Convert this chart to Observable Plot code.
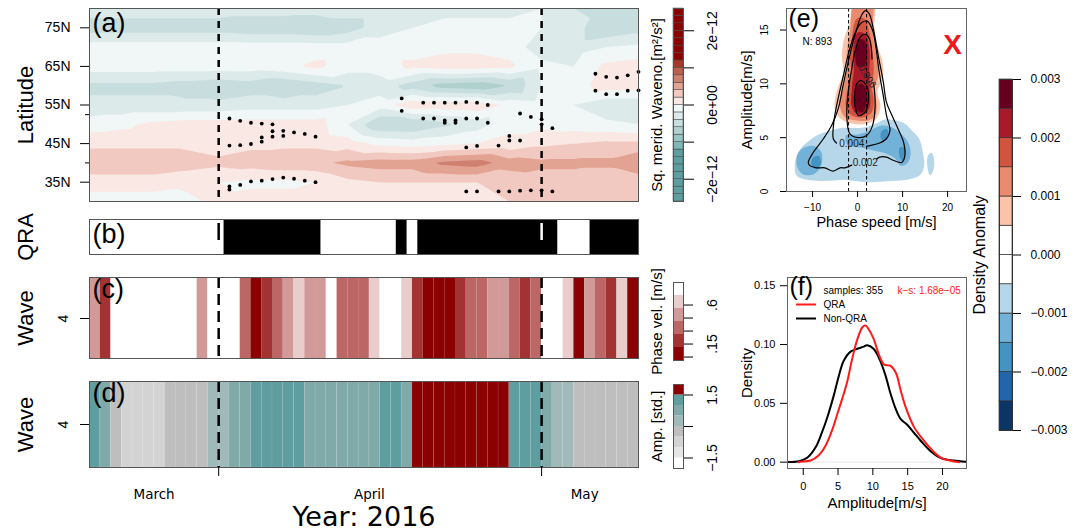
<!DOCTYPE html>
<html><head><meta charset="utf-8">
<script src="https://cdn.jsdelivr.net/npm/d3@7"></script>
<script src="https://cdn.jsdelivr.net/npm/@observablehq/plot@0.6"></script>
<style>
html,body{margin:0;padding:0;background:#fff;}
#chart{position:relative;width:1080px;height:531px;overflow:hidden;font-family:"Liberation Sans",Arial,sans-serif;}
.panel{position:absolute;}
.panel svg{overflow:visible;background:transparent;max-width:none;}
</style></head><body><div id="chart"></div>
<script>
// ---------------- DATA ----------------
// time axis (analysis steps), month labels, period markers
const nSteps = 51;
const periodMarks = [12, 42];
const monthNames = ["March", "April", "May"];
const monthPos = [6, 26, 46];

// (a) squared meridional wavenumber anomaly, units 1e-12 m²/s²
const timeIdx = [0,3,6,9,12,15,18,21,24,27,30,33,36,39,42,45,48,51];
const latitudes = [80,75,70,65,60,55,50,45,40,35,30];
const waveno = [
 [-0.3,-0.3,-0.3,-0.3,-0.3,-0.3,-0.3,-0.3,-0.3,-0.3,-0.3,-0.25,-0.25,-0.25,-0.2,-0.4,-0.5,-0.4],
 [-0.5,-0.5,-0.5,-0.5,-0.5,-0.55,-0.55,-0.6,-0.5,-0.3,-0.2,-0.15,-0.15,-0.15,-0.2,-0.3,-0.6,-0.5],
 [-0.1,-0.1,-0.1,-0.1,-0.1,-0.1,-0.1,-0.1,-0.1,-0.1,-0.1,-0.05,-0.05,-0.1,-0.3,-0.3,-0.2,-0.15],
 [-0.1,-0.1,-0.1,-0.1,-0.1,-0.1,-0.05,0.05,-0.1,-0.1,0.05,0.1,0.1,0.05,-0.15,-0.2,0.05,0.1],
 [-0.45,-0.45,-0.45,-0.5,-0.55,-0.5,-0.6,-0.5,-0.4,-0.3,-0.5,-0.7,-0.75,-0.6,-0.2,-0.1,0.1,0.1],
 [-0.35,-0.35,-0.35,-0.35,-0.35,-0.3,-0.3,-0.3,-0.2,-0.1,0.15,0.15,0.15,-0.05,-0.1,-0.2,-0.35,-0.35],
 [-0.1,-0.05,0.05,0.1,0.1,0.1,0.1,0.1,-0.2,-0.6,-0.6,-0.45,-0.3,-0.05,-0.05,-0.1,-0.15,-0.2],
 [0.15,0.15,0.15,0.15,0.1,0.15,0.15,0.15,0.1,-0.05,-0.1,-0.05,0.0,0.05,0.15,0.2,0.25,0.25],
 [0.35,0.35,0.35,0.3,0.25,0.3,0.35,0.35,0.45,0.5,0.5,0.65,0.7,0.5,0.45,0.45,0.45,0.6],
 [0.1,0.1,0.1,0.05,0.0,-0.05,-0.05,0.0,0.15,0.2,0.2,0.2,0.2,0.25,0.3,0.3,0.25,0.25],
 [-0.1,-0.1,-0.1,-0.05,0.05,0.1,0.1,0.1,0.15,0.15,0.15,0.15,0.15,0.2,0.2,0.2,0.3,0.35]
];
const latTicks = [35, 45, 55, 65, 75];
const latLabels = ["35N", "45N", "55N", "65N", "75N"];
const latMinor = [40, 52.5];
// significance dots [time step, latitude]
const sigDots = [
 [13,51.5],[14,50.9],[15,50.4],[16,50.2],[17,50.0],
 [17,48.2],[17,46.8],[18,48.3],[18,47.0],[19,47.9],[20,47.5],[21,46.8],
 [16,46.6],[16,45.5],[13,44.5],[14,44.6],[15,44.9],
 [13,33.9],[13,33.1],[14,34.3],[15,35.2],[16,35.4],[17,35.8],[18,36.2],[19,35.9],[20,35.4],[21,35.0],
 [29,56.7],[29,53.5],
 [31,55.6],[32,55.6],[33,55.6],[34,55.6],[35,55.8],[36,55.6],[37,55.0],
 [31,51.5],[32,51.5],[33,51.0],[33,50.4],[34,51.0],[34,50.4],[35,51.5],[36,51.5],[37,50.4],
 [40,52.8],[41,51.9],[42,51.3],[42,50.0],[43,49.0],
 [39,47.0],[39,45.8],[40,45.8],[35,44.0],[36,44.4],[38,44.5],
 [35,32.6],[36,32.6],[38,32.6],[39,32.6],[40,32.8],[41,32.9],[42,32.9],[43,32.6],
 [47,63.1],[48,62.3],[49,62.1],[50,62.7],[51,63.6],
 [47,58.7],[48,57.8],[49,57.8],[50,58.7],[51,58.8]
];
const cbATicks = [-2, -1, 0, 1, 2];
const cbALabels = ["−2e−12", "", "0e+00", "", "2e−12"];

// (b) QRA periods (start / end time step)
const qraStart = [12.5, 28.5, 30.5, 46.5];
const qraEnd = [21.5, 29.5, 43.5, 51];

// (c) wave-4 phase velocity per step
const waveNumbers = ["4"];
const phaseVel = [0.5,0.2,0.8,0.8,0.8,0.8,0.8,0.8,0.8,0.8,0.5,0.8,0.8,0.8,0.35,0.05,0.2,0.35,0.5,0.65,
 0.5,0.5,0.8,0.35,0.35,0.35,0.65,0.8,0.8,0.65,0.2,0.05,0.05,0.05,0.2,0.35,0.35,0.5,0.5,0.35,
 0.2,0.35,0.8,0.8,0.65,0.05,0.5,0.35,0.2,0.65,0.05];
const phaseThresholds = [0.11, 0.26, 0.41, 0.56, 0.71];
const phaseEdges = [-0.04, 0.11, 0.26, 0.41, 0.56, 0.71, 0.86];
const phaseTicks = [0, 0.15, 0.3, 0.45, 0.6];
const phaseTickLabels = ["", ".15", "", "", ".6"];

// (d) wave-4 amplitude per step [std.]
const waveAmp = [1.2,0.7,-0.2,-0.7,-0.7,-0.7,-0.7,-0.2,-0.2,-0.2,-0.2,0.2,0.2,0.7,0.7,1.2,1.2,1.2,1.2,1.2,
 0.7,0.7,0.7,0.7,0.7,0.7,0.7,1.2,1.2,0.7,1.8,1.8,1.8,1.8,1.8,1.8,1.8,1.8,1.8,1.2,
 1.2,1.2,0.7,0.2,0.2,-0.2,-0.2,-0.2,-0.2,-0.2,-0.2];
const ampThresholds = [-1.5, -1, -0.5, 0, 0.5, 1, 1.5];
const ampEdges = [-2, -1.5, -1, -0.5, 0, 0.5, 1, 1.5, 2];
const ampTicks = [-1.5, 0, 1.5];
const ampTickLabels = ["−1.5", "", "1.5"];

// (e) density anomaly regions (phase speed, amplitude) and density contours
const anomShapes = [
 {id:"b1", v:-0.0007, pts:[[-13.6,1.5],[-13.9,2.7],[-12.8,3.9],[-10.5,4.8],[-8,5.4],[-5.8,5.7],[-3.8,5.9],[-2,5.9],[0,5.9],[2,6.0],[4,6.3],[6,6.7],[8.5,6.6],[10.5,6.3],[12.2,5.6],[13.7,4.9],[14.5,3.6],[14.8,2.4],[13.8,1.5],[11,1.1],[8,1.0],[5,0.9],[2.5,0.85],[0,0.95],[-3,1.1],[-6,1.0],[-9,1.0],[-12,1.15]]},
 {id:"b2", v:-0.0007, pts:[[15.6,3.3],[16.4,3.6],[17.0,3.0],[16.8,1.9],[16.1,1.5],[15.5,2.3]]},
 {id:"b3", v:-0.0012, pts:[[-13.3,3.5],[-11.8,4.1],[-9.5,4.2],[-8.0,3.6],[-8.2,2.3],[-9.8,1.6],[-12.2,1.6],[-13.5,2.4]]},
 {id:"b4", v:-0.0012, pts:[[-2.6,5.2],[0,5.3],[2.5,5.6],[5,6.1],[7.5,6.0],[9.5,5.4],[11.2,4.6],[11.8,3.5],[11,2.6],[9.5,2.4],[8.5,3.0],[6.5,3.5],[3.5,3.8],[0.5,4.1],[-2.2,4.3]]},
 {id:"b5", v:-0.0017, pts:[[-10,3.1],[-8.6,3.3],[-8.2,2.5],[-9.2,2.1],[-10.2,2.4]]},
 {id:"b6", v:-0.0017, pts:[[5.3,5.6],[6.5,5.8],[6.9,5.1],[6.0,4.7],[5.2,4.9]]},
 {id:"b7", v:-0.0017, pts:[[9.4,4.1],[10.4,4.1],[10.6,3.3],[9.9,2.9],[9.3,3.3]]},
 {id:"r1", v:0.0007, pts:[[-0.96,17.5],[-1.7,15.75],[-3.0,14.2],[-3.5,12.65],[-3.2,11.1],[-4.7,9.2],[-5.1,7.7],[-3.9,6.8],[-1.0,6.3],[2.0,6.3],[4.2,6.8],[5.1,8.0],[4.4,9.2],[5.6,10.6],[5.6,11.9],[4.4,13.6],[3.7,15.4],[3.6,17.5]]},
 {id:"r2", v:0.0012, pts:[[-0.6,17.5],[-1.7,14.8],[-2.4,13.0],[-2.4,11.1],[-3.5,9.2],[-3.9,7.85],[-2.8,6.9],[-0.2,6.6],[2.4,6.6],[3.9,7.05],[4.2,8.3],[3.6,9.5],[4.6,10.8],[4.2,12.65],[3.3,14.8],[3.1,17.5]]},
 {id:"r3", v:0.0017, pts:[[-0.2,16.05],[-1.3,14.2],[-1.7,12.3],[-1.3,10.8],[-2.4,9.2],[-2.6,7.9],[-1.3,7.05],[1.3,6.9],[3.1,7.35],[3.6,8.6],[3.1,9.85],[3.6,11.1],[3.3,13.0],[2.6,14.8],[1.6,16.05]]},
 {id:"r4", v:0.0022, pts:[[-0.2,14.7],[-0.96,13.3],[-0.8,11.4],[-1.3,9.5],[-1.3,7.9],[-0.2,7.2],[1.6,7.2],[2.7,7.9],[2.7,9.4],[2.6,11.1],[2.7,13.0],[2.0,14.4],[0.9,14.8]]},
 {id:"r5", v:0.0027, pts:[[0.9,14.2],[0,14.0],[-0.5,12.65],[0,11.6],[1.6,11.7],[2.1,13.0],[1.6,14.0]]},
 {id:"r6", v:0.0027, pts:[[0.9,10.0],[-0.2,9.85],[-0.6,8.6],[-0.1,7.5],[1.1,7.35],[2.0,8.3],[1.9,9.5]]}
];
const densOpen = [
 {id:"0.002", pts:[[4.2,3.0],[4.9,3.2],[6.4,3.2],[7.9,2.9],[9.8,2.7],[10.5,3.3],[10.2,4.6],[9.0,5.8],[7.6,7.1],[6.4,8.3],[5.7,10.2],[4.6,12.6],[3.5,15.1],[2.6,16.5],[1.8,16.8],[0.9,16.4],[-0.6,14.5],[-2.1,12.0],[-3.2,9.9],[-4.3,7.7],[-5.8,6.1],[-7.6,4.9],[-9.9,3.6],[-10.96,2.7],[-10.6,2.4],[-9.1,2.2],[-7.3,2.2],[-5.4,1.9],[-3.9,2.2],[-2.8,2.2],[-1.3,2.45]]},
 {id:"0.004", pts:[[2.0,4.2],[4.9,4.5],[6.4,4.9],[7.2,5.65],[6.4,7.1],[5.7,8.9],[4.8,11.1],[4.1,13.3],[3.3,15.0],[2.2,15.8],[0.9,15.7],[-0.6,14.7],[-2.1,12.7],[-3.3,10.5],[-4.5,8.3],[-5.3,6.4],[-5.4,4.9],[-4.7,4.5]]},
 {id:"0.006", pts:[[3.6,10.0],[3.9,8.0],[3.3,6.1],[2.0,5.2],[0.2,5.0],[-1.7,5.35],[-2.4,7.05],[-2.1,9.2],[-1.3,11.4],[-0.4,13.3],[0.7,14.4],[1.8,14.6],[2.7,14.1],[3.2,12.3]]}
];
const densClosed = [
 {id:"0.008", pts:[[0.7,10.3],[2.0,9.8],[2.4,8.6],[1.6,7.35],[0.2,7.05],[-0.6,8.0],[-0.6,9.2],[-0.2,10.0]]}
];
const densLabels = [
 {x:1.7, y:2.7, text:"0.002", rot:0},
 {x:-1.3, y:4.4, text:"0.004", rot:0},
 {x:2.15, y:10.7, text:"0.006", rot:58}
];
const eDashX = [-2, 2];
const eXTicks = [-10, 0, 10, 20];
const eYTicks = [0, 5, 10, 15];
const anomEdges = d3.range(-6, 7).map(i => i * 0.0005);
const anomTicks = [-0.003, -0.002, -0.001, 0, 0.001, 0.002, 0.003];
const anomTickLabels = ["−0.003", "−0.002", "−0.001", "0.000", "0.001", "0.002", "0.003"];

// (f) amplitude density curves
const qraAmp = [-0.7,-0.4,1.05,2.2,3.2,4.2,4.9,5.6,6.3,7.0,7.8,8.5,8.95,9.4,10.1,10.9,11.6,12.5,13.3,14.0,14.7,15.9,17.1,18.8,20.0,21.2,22.4];
const qraDens = [0,0.0003,0.0014,0.0057,0.014,0.028,0.041,0.054,0.068,0.087,0.105,0.1147,0.1162,0.113,0.105,0.091,0.083,0.082,0.076,0.061,0.047,0.030,0.020,0.0085,0.003,0.0012,0.0];
const nonAmp = [-2.26,-0.6,0.57,1.8,2.7,3.45,4.4,5.1,5.8,6.8,7.8,8.6,9.2,10.1,11.0,11.8,12.5,13.3,14.0,14.9,15.9,16.9,18.3,19.7,21.6,23.45];
const nonDens = [0.0001,0.0008,0.0037,0.0128,0.0255,0.038,0.057,0.073,0.086,0.094,0.0964,0.098,0.0994,0.0964,0.087,0.074,0.059,0.045,0.0365,0.032,0.025,0.018,0.0093,0.0037,0.0014,0.0003];
const fXTicks = [0, 5, 10, 15, 20];
const fYTicks = [0, 0.05, 0.10, 0.15];
const legendLabels = ["QRA", "Non-QRA"];

// ---------------- STYLES ----------------
const FONT = "'Liberation Sans', Arial, Helvetica, sans-serif";
const DEJAVU = "'DejaVu Sans', sans-serif";
const baseStyle = {background: "transparent", overflow: "visible", fontFamily: FONT, maxWidth: "none"};
const colorA = {type: "linear", clamp: true, interpolate: "rgb",
  domain: [-1.4,-1.2,-1.0,-0.8,-0.6,-0.4,-0.2,0,0.2,0.4,0.6,0.8,1.0,1.2],
  range: ["#5f9ea0","#80b6b6","#98c4c4","#b0d0d0","#c8dede","#dceaea","#f1f7f7","#fae8e4","#f1c9c0","#e2a392","#d08070","#bf5e4e","#a83828","#8b0000"]};
const colorPhase = {type: "threshold", domain: phaseThresholds,
  range: ["#8b0000","#a33333","#bd6666","#d29999","#e9cccc","#ffffff"]};
const colorAmp = {type: "threshold", domain: ampThresholds,
  range: ["#ffffff","#e6e6e6","#d3d3d3","#bebebe","#a0b9b9","#80aaaa","#5f9ea0","#8b0000"]};
const colorAnom = {type: "threshold", domain: d3.range(-5, 6).map(i => i * 0.0005),
  range: ["#0b3564","#2166ac","#4393c3","#73b2d8","#b6d7ea","#ffffff","#ffffff","#f9c4a9","#ea8a6e","#d2543f","#a8192c","#67001f"]};
const lineSymbol = {draw(ctx, size) { const r = Math.sqrt(size / Math.PI); ctx.moveTo(-r, 0); ctx.lineTo(r, 0); }};

function place(svg, left, top) {
  const div = document.createElement("div");
  div.className = "panel";
  div.style.left = left + "px"; div.style.top = top + "px";
  div.appendChild(svg);
  document.getElementById("chart").appendChild(div);
}
const sideLabel = (t, dx) => Plot.text([t], {frameAnchor: "left", dx, rotate: -90, textAnchor: "middle", lineAnchor: "middle", fontSize: 22});
const panelTag = (t, opts) => Plot.text([t], {frameAnchor: "top-left", textAnchor: "start", lineAnchor: "top", fontSize: 27, ...opts});

// ---------------- PANEL (a) ----------------
const gridPts = [];
latitudes.forEach((lat, r) => timeIdx.forEach((t, c) => gridPts.push({t, lat, v: waveno[r][c]})));
const levelsA = d3.range(-13, 13).map(i => i / 5);

place(Plot.plot({
  width: 640, height: 210, marginLeft: 89, marginRight: 2, marginTop: 8, marginBottom: 9,
  style: baseStyle,
  x: {domain: [0, nSteps], axis: null, label: null},
  y: {domain: [30, 80], axis: null, label: null},
  color: colorA,
  marks: [
    Plot.contour(gridPts, {x: "t", y: "lat", fill: "v", thresholds: levelsA, interpolate: "barycentric", stroke: "none"}),
    Plot.dot(sigDots, {x: d => d[0], y: d => d[1], r: 1.9, fill: "black", stroke: "none"}),
    Plot.ruleX(periodMarks, {stroke: "black", strokeWidth: 2.5, strokeDasharray: "7,6"}),
    Plot.frame({stroke: "#555"}),
    Plot.axisY({ticks: latTicks, tickFormat: d => latLabels[latTicks.indexOf(d)], tickSize: 9, tickPadding: 10, fontSize: 14, label: null}),
    Plot.axisY({ticks: latMinor, tickSize: 4, tickFormat: () => "", label: null}),
    sideLabel("Latitude", -64),
    panelTag("(a)", {dx: 3, dy: 4})
  ]
}), 0, 0);

// colorbar (a)
const boxesA = levelsA.map(lo => ({lo, hi: lo + 0.2}));
place(Plot.plot({
  width: 90, height: 210, marginLeft: 33, marginRight: 47, marginTop: 8, marginBottom: 9,
  style: baseStyle,
  x: {axis: null}, y: {domain: [-2.6, 2.6], axis: null, label: null},
  color: colorA,
  marks: [
    Plot.rect(boxesA, {y1: "lo", y2: "hi", fill: "lo", stroke: "#444", strokeWidth: 0.5}),
    Plot.frame({stroke: "#555"}),
    Plot.axisY({anchor: "right", ticks: cbATicks, tickSize: 10, tickFormat: () => "", label: null}),
    Plot.text(cbATicks, {y: d => d, text: (d, i) => cbALabels[i], frameAnchor: "right", dx: 29, rotate: -90, textAnchor: "middle", lineAnchor: "middle", fontSize: 14}),
    Plot.text(["Sq. merid. Waveno.[m²/s²]"], {frameAnchor: "left", dx: -16, rotate: -90, textAnchor: "middle", lineAnchor: "middle", fontSize: 15})
  ]
}), 640, 0);

// ---------------- PANEL (b) ----------------
const qraSegs = qraStart.map((s, i) => ({s, e: qraEnd[i]}));
const inQra = x => qraSegs.some(q => x >= q.s && x <= q.e);
place(Plot.plot({
  width: 640, height: 50, marginLeft: 89, marginRight: 2, marginTop: 9, marginBottom: 6,
  style: baseStyle,
  x: {domain: [0, nSteps], axis: null, label: null},
  color: {type: "identity"},
  marks: [
    Plot.rect(qraSegs, {x1: "s", x2: "e", fill: "black"}),
    Plot.ruleX(periodMarks, {stroke: d => inQra(d) ? "white" : "black", strokeWidth: 2.5, strokeDasharray: "17,40", strokeDashoffset: -4}),
    Plot.frame({stroke: "#555"}),
    sideLabel("QRA", -64),
    Plot.text(["(b)"], {frameAnchor: "left", textAnchor: "start", lineAnchor: "middle", dx: 3, dy: -3, fontSize: 27})
  ]
}), 0, 210);

// ---------------- PANEL (c) ----------------
place(Plot.plot({
  width: 640, height: 105, marginLeft: 89, marginRight: 2, marginTop: 17, marginBottom: 7,
  style: baseStyle,
  x: {domain: [0, nSteps], axis: null, label: null},
  y: {type: "point", domain: waveNumbers, axis: null, label: null},
  color: colorPhase,
  marks: [
    Plot.rect(phaseVel, {x1: (d, i) => i, x2: (d, i) => i + 1, fill: d => d}),
    Plot.ruleX(periodMarks, {stroke: "black", strokeWidth: 2.5, strokeDasharray: "11,6"}),
    Plot.frame({stroke: "#555"}),
    Plot.axisY({tickSize: 9, tickFormat: () => "", label: null}),
    Plot.text(waveNumbers, {y: d => d, frameAnchor: "left", dx: -26, rotate: -90, textAnchor: "middle", lineAnchor: "middle", fontSize: 14}),
    sideLabel("Wave", -64),
    panelTag("(c)", {dx: 3, dy: 1})
  ]
}), 0, 260);

// colorbar (c)
const boxesC = phaseEdges.slice(0, -1).map((lo, i) => ({lo, hi: phaseEdges[i + 1]}));
place(Plot.plot({
  width: 90, height: 110, marginLeft: 33, marginRight: 47, marginTop: 22, marginBottom: 10,
  style: baseStyle,
  x: {axis: null}, y: {domain: [phaseEdges[0], phaseEdges[phaseEdges.length - 1]], axis: null, label: null},
  color: colorPhase,
  marks: [
    Plot.rect(boxesC, {y1: "lo", y2: "hi", fill: d => (d.lo + d.hi) / 2}),
    Plot.frame({stroke: "#555"}),
    Plot.axisY({anchor: "right", ticks: phaseTicks, tickSize: 9, tickFormat: () => "", label: null}),
    Plot.text(phaseTicks, {y: d => d, text: (d, i) => phaseTickLabels[i], frameAnchor: "right", dx: 29, rotate: -90, textAnchor: "middle", lineAnchor: "middle", fontSize: 14}),
    Plot.text(["Phase vel. [m/s]"], {frameAnchor: "left", dx: -16, rotate: -90, textAnchor: "middle", lineAnchor: "middle", fontSize: 15})
  ]
}), 640, 260);

// ---------------- PANEL (d) ----------------
place(Plot.plot({
  width: 640, height: 166, marginLeft: 89, marginRight: 2, marginTop: 16, marginBottom: 64,
  style: baseStyle,
  x: {domain: [0, nSteps], label: null},
  y: {type: "point", domain: waveNumbers, axis: null, label: null},
  color: colorAmp,
  marks: [
    Plot.rect(waveAmp, {x1: (d, i) => i, x2: (d, i) => i + 1, fill: d => d, stroke: "white", strokeOpacity: 0.12, strokeWidth: 0.6}),
    Plot.ruleX(periodMarks, {stroke: "black", strokeWidth: 2.5, strokeDasharray: "11,6"}),
    Plot.frame({stroke: "#555"}),
    Plot.axisY({tickSize: 9, tickFormat: () => "", label: null}),
    Plot.axisX({ticks: periodMarks, tickSize: 9, tickFormat: () => "", label: null}),
    Plot.text(waveNumbers, {y: d => d, frameAnchor: "left", dx: -26, rotate: -90, textAnchor: "middle", lineAnchor: "middle", fontSize: 14}),
    Plot.text(monthNames, {x: (d, i) => monthPos[i], frameAnchor: "bottom", dy: 27, lineAnchor: "middle", fontSize: 13.5, fontFamily: DEJAVU}),
    Plot.text(["Year: 2016"], {frameAnchor: "bottom", dy: 50, lineAnchor: "middle", fontSize: 27, fontFamily: DEJAVU}),
    sideLabel("Wave", -64),
    panelTag("(d)", {dx: 3, dy: 1})
  ]
}), 0, 365);

// colorbar (d)
const boxesD = ampEdges.slice(0, -1).map((lo, i) => ({lo, hi: ampEdges[i + 1]}));
place(Plot.plot({
  width: 90, height: 110, marginLeft: 33, marginRight: 47, marginTop: 14, marginBottom: 12,
  style: baseStyle,
  x: {axis: null}, y: {domain: [ampEdges[0], ampEdges[ampEdges.length - 1]], axis: null, label: null},
  color: colorAmp,
  marks: [
    Plot.rect(boxesD, {y1: "lo", y2: "hi", fill: d => (d.lo + d.hi) / 2}),
    Plot.frame({stroke: "#555"}),
    Plot.axisY({anchor: "right", ticks: ampTicks, tickSize: 9, tickFormat: () => "", label: null}),
    Plot.text(ampTicks, {y: d => d, text: (d, i) => ampTickLabels[i], frameAnchor: "right", dx: 29, rotate: -90, textAnchor: "middle", lineAnchor: "middle", fontSize: 14}),
    Plot.text(["Amp. [std.]"], {frameAnchor: "left", dx: -16, rotate: -90, textAnchor: "middle", lineAnchor: "middle", fontSize: 15})
  ]
}), 640, 370);

// ---------------- PANEL (e) ----------------
const flat = shapes => shapes.flatMap(s => s.pts.map(([x, y]) => ({id: s.id, v: s.v, x, y})));
place(Plot.plot({
  width: 260, height: 240, marginLeft: 66, marginRight: 14, marginTop: 8, marginBottom: 49,
  style: baseStyle,
  x: {domain: [-15.8, 24.2], label: null},
  y: {domain: [0, 17], label: null},
  color: colorAnom,
  marks: [
    Plot.line(flat(anomShapes), {x: "x", y: "y", z: "id", fill: "v", stroke: "none", curve: "catmull-rom-closed", clip: true}),
    Plot.line(flat(densOpen), {x: "x", y: "y", z: "id", stroke: "black", strokeWidth: 1.2, curve: "catmull-rom", clip: true}),
    Plot.line(flat(densClosed), {x: "x", y: "y", z: "id", stroke: "black", strokeWidth: 1.2, curve: "catmull-rom-closed", clip: true}),
    Plot.ruleX(eDashX, {stroke: "black", strokeWidth: 1, strokeDasharray: "3.5,2.5"}),
    Plot.text(densLabels, {x: "x", y: "y", text: "text", rotate: "rot", fontSize: 10, fill: "#222"}),
    Plot.frame({stroke: "#666"}),
    Plot.axisX({ticks: eXTicks, tickSize: 6, tickPadding: 6, fontSize: 10, label: null}),
    Plot.axisY({ticks: eYTicks, tickSize: 6, tickFormat: () => "", label: null}),
    Plot.text(eYTicks, {y: d => d, frameAnchor: "left", dx: -22, rotate: -90, textAnchor: "middle", lineAnchor: "middle", fontSize: 10}),
    Plot.text(["Amplitude[m/s]"], {frameAnchor: "left", dx: -39, rotate: -90, textAnchor: "middle", lineAnchor: "middle", fontSize: 15}),
    Plot.text(["Phase speed [m/s]"], {frameAnchor: "bottom", dy: 31, lineAnchor: "middle", fontSize: 14.5}),
    Plot.text(["(e)"], {frameAnchor: "top-left", textAnchor: "start", lineAnchor: "top", dx: 2, dy: 1, fontSize: 25}),
    Plot.text(["N: 893"], {frameAnchor: "top-left", textAnchor: "start", lineAnchor: "middle", dx: 16, dy: 33, fontSize: 10}),
    Plot.text(["X"], {frameAnchor: "top-right", textAnchor: "middle", lineAnchor: "middle", dx: -14, dy: 37, fontSize: 28, fontWeight: "bold", fill: "#f01818"})
  ]
}), 720, 0);

// colorbar (e)
const boxesE = anomEdges.slice(0, -1).map((lo, i) => ({lo, hi: anomEdges[i + 1]}));
place(Plot.plot({
  width: 120, height: 390, marginLeft: 39, marginRight: 68, marginTop: 19, marginBottom: 20,
  style: baseStyle,
  x: {axis: null}, y: {domain: [-0.003, 0.003], axis: null, label: null},
  color: colorAnom,
  marks: [
    Plot.rect(boxesE, {y1: "lo", y2: "hi", fill: d => (d.lo + d.hi) / 2, stroke: "#333", strokeWidth: 0.7}),
    Plot.frame({stroke: "#333"}),
    Plot.axisY({anchor: "right", ticks: anomTicks, tickSize: 8, tickPadding: 10, fontSize: 12, tickFormat: d => anomTickLabels[anomTicks.indexOf(d)], label: null}),
    Plot.text(["Density Anomaly"], {frameAnchor: "left", dx: -20, rotate: -90, textAnchor: "middle", lineAnchor: "middle", fontSize: 16})
  ]
}), 960, 60);

// ---------------- PANEL (f) ----------------
const qraPts = qraAmp.map((x, i) => ({x, y: qraDens[i]}));
const nonPts = nonAmp.map((x, i) => ({x, y: nonDens[i]}));
place(Plot.plot({
  width: 260, height: 269, marginLeft: 67, marginRight: 14, marginTop: 15, marginBottom: 63,
  style: baseStyle,
  x: {domain: [-2.26, 23.45], label: null},
  y: {domain: [-0.0054, 0.157], label: null},
  marks: [
    Plot.ruleY([0], {stroke: "#e6e6e6"}),
    Plot.line(nonPts, {x: "x", y: "y", stroke: "black", strokeWidth: 2, curve: "catmull-rom", clip: true}),
    Plot.line(qraPts, {x: "x", y: "y", stroke: "#ff1a1a", strokeWidth: 2, curve: "catmull-rom", clip: true}),
    Plot.frame({stroke: "#666"}),
    Plot.axisX({ticks: fXTicks, tickSize: 7, tickPadding: 7, fontSize: 11, label: null}),
    Plot.axisY({ticks: fYTicks, tickSize: 7, tickPadding: 5, fontSize: 11, tickFormat: d3.format(".2f"), label: null}),
    Plot.text(["Density"], {frameAnchor: "left", dx: -40, rotate: -90, textAnchor: "middle", lineAnchor: "middle", fontSize: 15}),
    Plot.text(["Amplitude[m/s]"], {frameAnchor: "bottom", dy: 35, lineAnchor: "middle", fontSize: 15}),
    Plot.text(["(f)"], {frameAnchor: "top-left", textAnchor: "start", lineAnchor: "top", dx: 2, dy: 0, fontSize: 25}),
    Plot.text(["samples: 355"], {frameAnchor: "top-left", textAnchor: "start", lineAnchor: "middle", dx: 36, dy: 13, fontSize: 10}),
    Plot.text(["k−s: 1.68e−05"], {frameAnchor: "top-left", textAnchor: "start", lineAnchor: "middle", dx: 110, dy: 13, fontSize: 10, fill: "#ff2020"}),
    Plot.dot([legendLabels[0]], {frameAnchor: "top-left", dx: 18.5, dy: 27, symbol: lineSymbol, r: 10, stroke: "#ff1a1a", strokeWidth: 2, fill: "none"}),
    Plot.dot([legendLabels[1]], {frameAnchor: "top-left", dx: 18.5, dy: 41, symbol: lineSymbol, r: 10, stroke: "black", strokeWidth: 2, fill: "none"}),
    Plot.text([legendLabels[0]], {frameAnchor: "top-left", textAnchor: "start", lineAnchor: "middle", dx: 36, dy: 27, fontSize: 10}),
    Plot.text([legendLabels[1]], {frameAnchor: "top-left", textAnchor: "start", lineAnchor: "middle", dx: 36, dy: 41, fontSize: 10})
  ]
}), 720, 262);
</script></body></html>
